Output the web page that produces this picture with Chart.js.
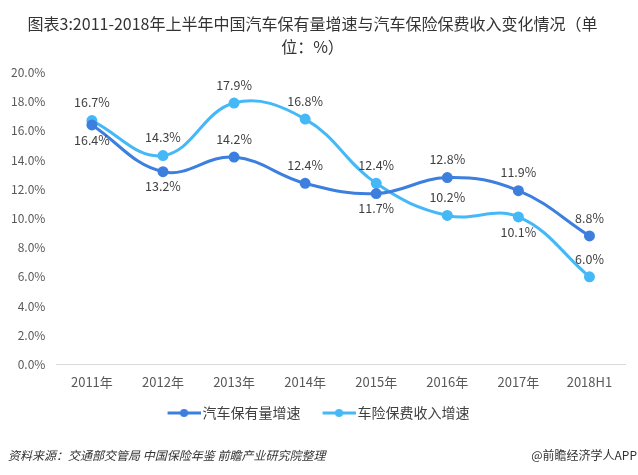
<!DOCTYPE html>
<html>
<head>
<meta charset="utf-8">
<script src="https://cdn.jsdelivr.net/npm/chart.js@4"></script>
<style>
  html, body { margin: 0; padding: 0; background: #fff; }
  #wrap { position: relative; width: 638px; height: 475px; }
</style>
</head>
<body>
<div id="wrap"><canvas id="chart" width="638" height="475"></canvas></div>
<script>
const categories = ['2011年', '2012年', '2013年', '2014年', '2015年', '2016年', '2017年', '2018H1'];
const carGrowth = [16.4, 13.2, 14.2, 12.4, 11.7, 12.8, 11.9, 8.8];
const premiumGrowth = [16.7, 14.3, 17.9, 16.8, 12.4, 10.2, 10.1, 6.0];
// label above (1) or below (-1) the point
const carLabelSide = [-1, -1, 1, 1, -1, 1, 1, 1];
const premiumLabelSide = [1, 1, 1, 1, 1, 1, -1, 1];

const darkBlue = '#3c7fde';
const lightBlue = '#45b8f7';
const cjk = '"Microsoft YaHei", "Noto Sans CJK SC", sans-serif';

// legend marker: line with a dot, drawn on the right part of a wider canvas
function legendIcon(color) {
    const c = document.createElement('canvas');
    c.width = 50; c.height = 10;
    const g = c.getContext('2d');
    g.strokeStyle = color;
    g.lineWidth = 3;
    g.beginPath(); g.moveTo(17, 5); g.lineTo(50, 5); g.stroke();
    g.fillStyle = color;
    g.beginPath(); g.arc(33.5, 5, 4, 0, Math.PI * 2); g.fill();
    return c;
}

const valueLabels = {
    id: 'valueLabels',
    afterDatasetsDraw(chart) {
        const ctx = chart.ctx;
        ctx.save();
        ctx.font = '12.5px ' + cjk;
        ctx.fillStyle = '#404040';
        ctx.textAlign = 'center';
        ctx.textBaseline = 'middle';
        chart.data.datasets.forEach((ds, i) => {
            const meta = chart.getDatasetMeta(i);
            meta.data.forEach((pt, j) => {
                const side = ds.labelSide[j];
                const y = side > 0 ? pt.y - 18 : pt.y + 15;
                ctx.fillText(ds.data[j].toFixed(1) + '%', pt.x, y);
            });
        });
        ctx.restore();
    }
};

const footer = {
    id: 'footer',
    afterDraw(chart) {
        const ctx = chart.ctx;
        ctx.save();
        ctx.fillStyle = '#333';
        ctx.textBaseline = 'middle';
        ctx.font = 'italic 12px ' + cjk;
        ctx.textAlign = 'left';
        ctx.fillText('资料来源：交通部交管局 中国保险年鉴 前瞻产业研究院整理', 8, 455);
        ctx.font = '12px ' + cjk;
        ctx.textAlign = 'right';
        ctx.fillText('@前瞻经济学人APP', 637, 455);
        ctx.restore();
    }
};

const data = {
    labels: categories,
    datasets: [{
        label: '汽车保有量增速',
        data: carGrowth,
        labelSide: carLabelSide,
        borderColor: darkBlue,
        backgroundColor: darkBlue,
        borderWidth: 3,
        pointRadius: 4,
        pointHoverRadius: 4,
        tension: 0.4,
        fill: false,
        icon: legendIcon(darkBlue)
    }, {
        label: '车险保费收入增速',
        data: premiumGrowth,
        labelSide: premiumLabelSide,
        borderColor: lightBlue,
        backgroundColor: lightBlue,
        borderWidth: 3,
        pointRadius: 4,
        pointHoverRadius: 4,
        tension: 0.4,
        fill: false,
        icon: legendIcon(lightBlue)
    }]
};

const config = {
    type: 'line',
    data: data,
    options: {
        responsive: false,
        animation: false,
        layout: { padding: { left: 0, right: 13, top: 0, bottom: 45 } },
        plugins: {
            title: {
                display: true,
                text: ['图表3:2011-2018年上半年中国汽车保有量增速与汽车保险保费收入变化情况（单', '位：%）'],
                color: '#333',
                font: { family: cjk, size: 16, weight: 'normal', lineHeight: 1.45 },
                padding: { top: 12, bottom: 14 }
            },
            legend: {
                position: 'bottom',
                labels: {
                    color: '#404040',
                    font: { family: cjk, size: 14 },
                    usePointStyle: true,
                    pointStyleWidth: 40,
                    padding: 10,
                    generateLabels(chart) {
                        return chart.data.datasets.map((ds, i) => ({
                            text: ds.label,
                            pointStyle: ds.icon,
                            fontColor: '#404040',
                            datasetIndex: i,
                            lineWidth: 0
                        }));
                    }
                }
            },
            tooltip: { enabled: false }
        },
        scales: {
            x: {
                offset: true,
                grid: { display: false, drawTicks: false, offset: true },
                border: { color: '#d9d9d9' },
                ticks: { color: '#595959', font: { family: cjk, size: 13 }, padding: 10 },
                afterFit(scale) { scale.height -= 4; }
            },
            y: {
                min: 0,
                max: 20,
                grid: { display: false, drawTicks: false },
                border: { display: false },
                ticks: {
                    stepSize: 2,
                    color: '#595959',
                    font: { family: cjk, size: 12 },
                    padding: 11,
                    callback: (v) => v.toFixed(1) + '%'
                }
            }
        }
    },
    plugins: [valueLabels, footer]
};

new Chart(document.getElementById('chart').getContext('2d'), config);
</script>
</body>
</html>
